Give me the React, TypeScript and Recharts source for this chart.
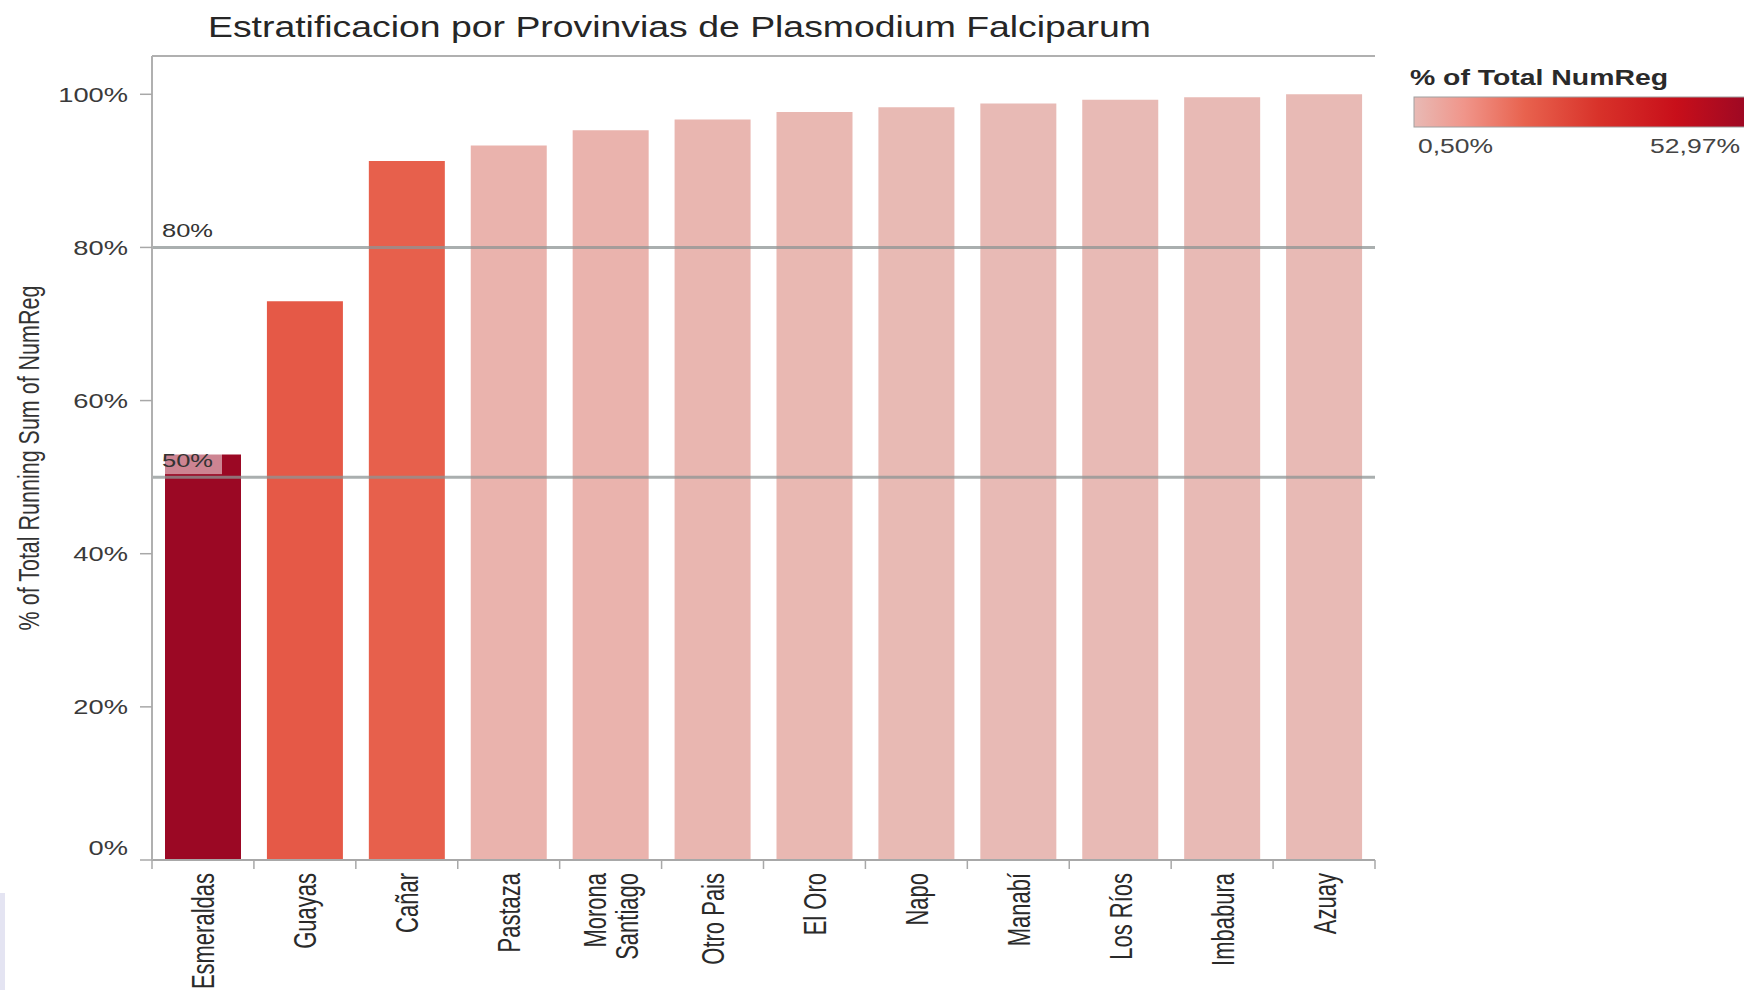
import React from "react";
import {
  BarChart,
  Bar,
  Cell,
  XAxis,
  YAxis,
  ReferenceLine,
} from "recharts";

// provinces, sorted by share
const PROVINCES = [
  "Esmeraldas",
  "Guayas",
  "Cañar",
  "Pastaza",
  "Morona Santiago",
  "Otro Pais",
  "El Oro",
  "Napo",
  "Manabí",
  "Los Ríos",
  "Imbabura",
  "Azuay",
];

// % of total running sum of NumReg
const RUNNING_PCT = [52.97, 72.97, 91.3, 93.3, 95.3, 96.7, 97.7, 98.3, 98.8, 99.3, 99.6, 100];

const Y_TICKS = [0, 20, 40, 60, 80, 100];
const REF_LINES = [80, 50];
const LEGEND_MIN = 0.5;
const LEGEND_MAX = 52.97;

const WRAPPED: Record<string, string[]> = {
  "Morona Santiago": ["Morona", "Santiago"],
};

const W = 1744;
const H = 990;
const PLOT_LEFT = 152;
const PLOT_RIGHT = 1375;
const PLOT_BOTTOM = 860;
const BAND = (PLOT_RIGHT - PLOT_LEFT) / PROVINCES.length;
const FONT = '"Liberation Sans", Arial, sans-serif';

const STOPS: [number, string][] = [
  [0, "#e8bab5"],
  [0.15, "#f0958a"],
  [0.33, "#e8624e"],
  [0.55, "#d8322a"],
  [0.78, "#c80f1a"],
  [1, "#9b0824"],
];

function hex(c: string) {
  return [1, 3, 5].map((i) => parseInt(c.slice(i, i + 2), 16));
}

function shareColor(share: number) {
  const t = Math.min(1, Math.max(0, (share - LEGEND_MIN) / (LEGEND_MAX - LEGEND_MIN)));
  for (let i = 1; i < STOPS.length; i++) {
    const [p1, c1] = STOPS[i];
    const [p0, c0] = STOPS[i - 1];
    if (t <= p1) {
      const f = (t - p0) / (p1 - p0);
      const a = hex(c0);
      const b = hex(c1);
      const m = a.map((v, k) => Math.round(v + (b[k] - v) * f));
      return `rgb(${m[0]},${m[1]},${m[2]})`;
    }
  }
  return STOPS[STOPS.length - 1][1];
}

const data = PROVINCES.map((name, i) => ({
  name,
  value: RUNNING_PCT[i],
  share: RUNNING_PCT[i] - (i > 0 ? RUNNING_PCT[i - 1] : 0),
}));

function YTick(props: any) {
  const { y, payload } = props;
  const v = payload.value;
  const yy = v === 0 ? y - 13 : y;
  return (
    <g>
      <line x1={140} x2={PLOT_LEFT} y1={y} y2={y} stroke="#a8a8a8" strokeWidth={1.5} />
      <text
        transform={`translate(128,${yy}) scale(1.3,1)`}
        textAnchor="end"
        dy="0.36em"
        fontSize={21}
        fontFamily={FONT}
        fill="#3a3a3a"
      >
        {`${v}%`}
      </text>
    </g>
  );
}

function XTick(props: any) {
  const { x, payload, index } = props;
  const lines = WRAPPED[payload.value] || [payload.value];
  const left = x - BAND / 2;
  return (
    <g>
      <line x1={left} x2={left} y1={PLOT_BOTTOM} y2={PLOT_BOTTOM + 9} stroke="#a8a8a8" strokeWidth={1.5} />
      {index === PROVINCES.length - 1 && (
        <line x1={left + BAND} x2={left + BAND} y1={PLOT_BOTTOM} y2={PLOT_BOTTOM + 9} stroke="#a8a8a8" strokeWidth={1.5} />
      )}
      <g transform={`translate(${x},873) scale(1.45,1) rotate(-90)`}>
        {lines.map((l: string, i: number) => (
          <text
            key={l}
            x={0}
            y={(i - (lines.length - 1) / 2) * 22}
            textAnchor="end"
            dy="0.36em"
            fontSize={22}
            fontFamily={FONT}
            fill="#2a2a2a"
          >
            {l}
          </text>
        ))}
      </g>
    </g>
  );
}

function RefLabel(props: any) {
  const { viewBox, text, boxed } = props;
  const x = viewBox?.x ?? PLOT_LEFT;
  const y = viewBox?.y ?? 0;
  return (
    <g>
      {boxed && <rect x={x + 13} y={y - 25} width={57} height={22} fill="#ffffff" fillOpacity={0.5} />}
      <text
        x={x + 10}
        y={y - 10}
        fontSize={19}
        fontFamily={FONT}
        fill="#333"
        textLength={51}
        lengthAdjust="spacingAndGlyphs"
      >
        {text}
      </text>
    </g>
  );
}

export default function App() {
  return (
    <div style={{ position: "absolute", left: 0, top: 0, width: W, height: H, background: "#fff" }}>
      <BarChart
        width={W}
        height={H}
        data={data}
        margin={{ top: 56, right: W - PLOT_RIGHT, left: PLOT_LEFT - 100, bottom: 0 }}
      >
        <XAxis
          dataKey="name"
          interval={0}
          height={H - PLOT_BOTTOM}
          tickLine={false}
          axisLine={{ stroke: "#a8a8a8", strokeWidth: 2 }}
          tick={<XTick />}
        />
        <YAxis
          domain={[0, 105]}
          ticks={Y_TICKS}
          width={100}
          tickLine={false}
          axisLine={{ stroke: "#b0b0b0", strokeWidth: 2 }}
          tick={<YTick />}
        />
        <YAxis
          yAxisId="right"
          orientation="right"
          domain={[0, 105]}
          width={0}
          tick={false}
          tickLine={false}
          axisLine={{ stroke: "#b0b0b0", strokeWidth: 2 }}
        />
        <Bar dataKey="value" barSize={76} isAnimationActive={false}>
          {data.map((d) => (
            <Cell key={d.name} fill={shareColor(d.share)} />
          ))}
        </Bar>
        <ReferenceLine y={105} stroke="#b0b0b0" strokeWidth={2} />
        {REF_LINES.map((v) => (
          <ReferenceLine
            key={v}
            y={v}
            stroke="#8e9494"
            strokeOpacity={0.75}
            strokeWidth={3}
            label={<RefLabel text={`${v}%`} boxed={v === 50} />}
          />
        ))}
      </BarChart>

      <svg
        width={W}
        height={H}
        style={{ position: "absolute", left: 0, top: 0, pointerEvents: "none" }}
      >
        <defs>
          <linearGradient id="legendGrad" x1="0" x2="1" y1="0" y2="0">
            {STOPS.map(([p, c]) => (
              <stop key={p} offset={p} stopColor={c} />
            ))}
          </linearGradient>
        </defs>
        <rect x={0} y={893} width={5} height={97} fill="#e4e4f2" />
        <text
          x={208}
          y={37}
          fontSize={30}
          fontFamily={FONT}
          fill="#262626"
          textLength={943}
          lengthAdjust="spacingAndGlyphs"
        >
          Estratificacion por Provinvias de Plasmodium Falciparum
        </text>
        <text
          transform="translate(28,458) scale(1.4,1) rotate(-90)"
          textAnchor="middle"
          dy="0.36em"
          fontSize={21.5}
          fontFamily={FONT}
          fill="#333"
        >
          % of Total Running Sum of NumReg
        </text>
        <text
          x={1410}
          y={85}
          fontSize={22}
          fontWeight="bold"
          fontFamily={FONT}
          fill="#2a2a2a"
          textLength={258}
          lengthAdjust="spacingAndGlyphs"
        >
          % of Total NumReg
        </text>
        <rect x={1414} y={97} width={336} height={30} fill="url(#legendGrad)" stroke="#a0a0a0" strokeWidth={1} />
        <text
          x={1418}
          y={153}
          fontSize={20}
          fontFamily={FONT}
          fill="#444"
          textLength={75}
          lengthAdjust="spacingAndGlyphs"
        >
          0,50%
        </text>
        <text
          x={1740}
          y={153}
          textAnchor="end"
          fontSize={20}
          fontFamily={FONT}
          fill="#444"
          textLength={90}
          lengthAdjust="spacingAndGlyphs"
        >
          52,97%
        </text>
      </svg>
    </div>
  );
}
